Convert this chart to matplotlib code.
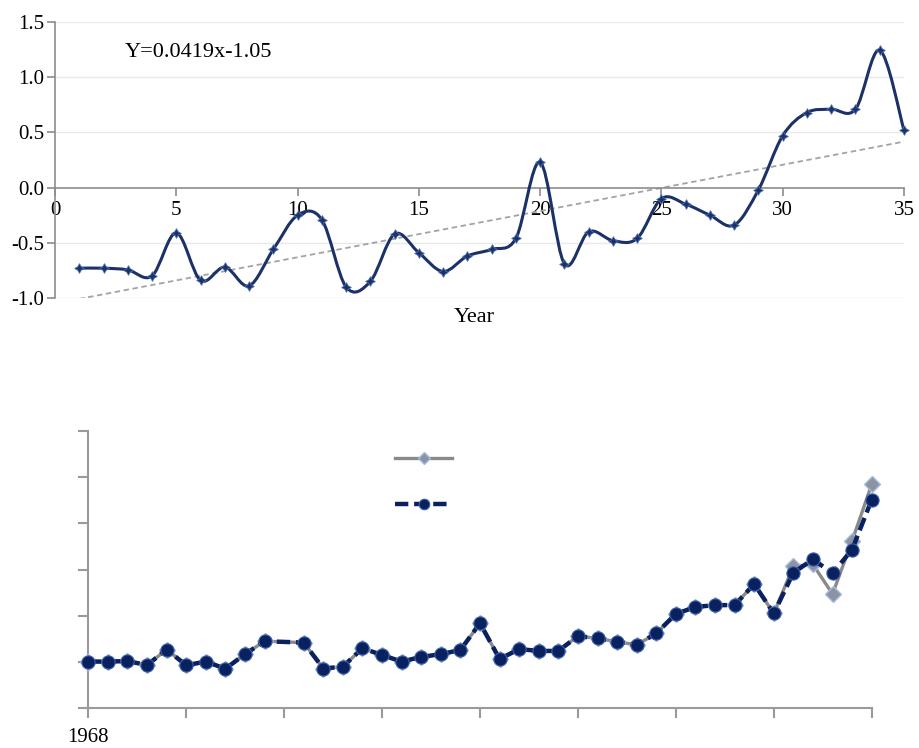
import numpy as np
import matplotlib
matplotlib.use("Agg")
import matplotlib.pyplot as plt
from matplotlib.path import Path
from matplotlib.patches import PathPatch

plt.rcParams['font.family'] = ['Liberation Serif', 'DejaVu Serif']

# ---------------- data ----------------
# annual anomaly index, years numbered 1..35
index_years = list(range(1, 36))
index_values = [-0.73, -0.73, -0.745, -0.80, -0.41, -0.84, -0.72, -0.89, -0.56, -0.25,
                 -0.29, -0.90, -0.85, -0.42, -0.59, -0.76, -0.62, -0.56, -0.46, 0.23,
                 -0.69, -0.40, -0.48, -0.46, -0.10, -0.15, -0.25, -0.34, -0.02, 0.47,
                 0.68, 0.71, 0.71, 1.245, 0.52]
trend_slope = 0.0419
trend_intercept = -1.05
trend_label = "Y=0.0419x-1.05"
index_xticks = [0, 5, 10, 15, 20, 25, 30, 35]
index_yticks = [-1.0, -0.5, 0.0, 0.5, 1.0, 1.5]

# long record 1968-2008 (no entry for 1978)
record_years = [1968, 1969, 1970, 1971, 1972, 1973, 1974, 1975, 1976, 1977,
                1979, 1980, 1981, 1982, 1983, 1984, 1985, 1986, 1987, 1988,
                1989, 1990, 1991, 1992, 1993, 1994, 1995, 1996, 1997, 1998,
                1999, 2000, 2001, 2002, 2003, 2004, 2005, 2006, 2007, 2008]
observed = [1.01, 1.01, 1.02, 0.935, 1.27, 0.93, 1.01, 0.855, 1.17, 1.45,
            1.42, 0.86, 0.90, 1.30, 1.15, 1.01, 1.11, 1.17, 1.26, 1.84,
            1.065, 1.28, 1.24, 1.24, 1.56, 1.51, 1.44, 1.37, 1.62, 2.04,
            2.19, 2.23, 2.23, 2.685, 2.05, 3.07, 3.11, 2.47, 3.62, 4.84]
fitted = [1.01, 1.01, 1.02, 0.935, 1.27, 0.93, 1.01, 0.855, 1.17, 1.45,
          1.42, 0.86, 0.90, 1.30, 1.15, 1.01, 1.11, 1.17, 1.26, 1.84,
          1.065, 1.28, 1.24, 1.24, 1.56, 1.51, 1.44, 1.37, 1.62, 2.04,
          2.19, 2.23, 2.23, 2.685, 2.05, 2.93, 3.22, 2.92, 3.43, 4.51]
record_xticks = [1968, 1973, 1978, 1983, 1988, 1993, 1998, 2003, 2008]
record_xticklabels = ['1968', '', '', '', '', '', '', '', '']
record_yticks = [0, 1, 2, 3, 4, 5, 6]

NAVY = '#1b3168'
DARK_NAVY = '#0a2160'
AXIS_GREY = '#8c8c8c'


def smooth_path(xs, ys, tension=1.0 / 6.0):
    """Cubic Bezier path through the points (spreadsheet-style smoothed line)."""
    pts = np.column_stack([xs, ys]).astype(float)
    n = len(pts)
    verts = [pts[0]]
    codes = [Path.MOVETO]
    for i in range(n - 1):
        p0 = pts[i - 1] if i > 0 else pts[i]
        p1 = pts[i]
        p2 = pts[i + 1]
        p3 = pts[i + 2] if i + 2 < n else pts[i + 1]
        c1 = p1 + (p2 - p0) * tension
        c2 = p2 - (p3 - p1) * tension
        verts += [c1, c2, p2]
        codes += [Path.CURVE4] * 3
    return Path(verts, codes)


fig = plt.figure(figsize=(9.2, 7.48), dpi=100)

# ---------------- upper panel ----------------
ax1 = fig.add_axes([55 / 920, 1 - 298 / 748, 849 / 920, 276 / 748])
ax1.set_xlim(0, 35)
ax1.set_ylim(-1.0, 1.5)

for y in index_yticks:
    if y != 0:
        ax1.axhline(y, color='#e9e9e9', lw=1.0, zorder=0)

ax1.spines['top'].set_visible(False)
ax1.spines['right'].set_visible(False)
ax1.spines['bottom'].set_position(('data', 0))
for s in ('left', 'bottom'):
    ax1.spines[s].set_color(AXIS_GREY)
    ax1.spines[s].set_linewidth(1.2)

ax1.set_xticks(index_xticks)
ax1.set_xticklabels([str(t) for t in index_xticks])
ax1.set_yticks(index_yticks)
ax1.set_yticklabels([f"{t:.1f}" for t in index_yticks])
ax1.tick_params(axis='both', direction='out', length=6, width=1.2,
                color=AXIS_GREY, labelsize=15, labelcolor='black')
ax1.tick_params(axis='x', pad=4)
ax1.tick_params(axis='y', pad=2)

tx = np.array([index_years[0], index_years[-1]], dtype=float)
ax1.plot(tx, trend_slope * tx + trend_intercept, color='#a3a3a3', lw=1.3,
         dashes=(3, 2), zorder=2)

ax1.add_patch(PathPatch(smooth_path(index_years, index_values), fill=False,
                        edgecolor=NAVY, lw=2.2, zorder=3, capstyle='round'))
ax1.plot(index_years, index_values, linestyle='none', marker=(4, 1, 0),
         markersize=7, color=NAVY, markeredgecolor='#4d6fae',
         markeredgewidth=0.6, zorder=4, clip_on=False)

ax1.text(70 / 849, (298 - 52) / 276, trend_label, transform=ax1.transAxes,
         fontsize=16, ha='left', va='center')
ax1.text((474 - 55) / 849, -20 / 276, "Year", transform=ax1.transAxes,
         fontsize=16, ha='center', va='center')

# ---------------- lower panel ----------------
ax2 = fig.add_axes([88.3 / 920, 1 - 708.3 / 748, 783.4 / 920, 277.6 / 748])
ax2.set_xlim(1968, 2008)
ax2.set_ylim(0, 6)
ax2.spines['top'].set_visible(False)
ax2.spines['right'].set_visible(False)
for s in ('left', 'bottom'):
    ax2.spines[s].set_color('#9a9a9a')
    ax2.spines[s].set_linewidth(1.5)
ax2.set_xticks(record_xticks)
ax2.set_xticklabels(record_xticklabels)
ax2.set_yticks(record_yticks)
ax2.set_yticklabels([])
ax2.tick_params(axis='both', direction='out', length=7, width=1.5,
                color='#9a9a9a', labelsize=15)
ax2.tick_params(axis='x', pad=7)

l_obs, = ax2.plot(record_years, observed, color='#8a8a8a', lw=2.4,
                  marker='D', markersize=8, markerfacecolor='#8c94a3',
                  markeredgecolor='#a3bde0', markeredgewidth=1.0,
                  zorder=3, clip_on=False)
l_fit, = ax2.plot(record_years, fitted, color=DARK_NAVY, lw=3.2,
                  dashes=(3, 1.3), marker='o', markersize=9.5,
                  markerfacecolor=DARK_NAVY, markeredgecolor='#3e5fa8',
                  markeredgewidth=0.8, zorder=4, clip_on=False)

ax2.legend(handles=[l_obs, l_fit], labels=['', ''], frameon=False,
           loc='upper left', bbox_to_anchor=((385 - 88.3) / 783.4, (708.3 - 440) / 277.6),
           handlelength=2.7, labelspacing=1.3, fontsize=15, borderpad=0,
           handletextpad=0.2, markerscale=0.8)

fig.savefig('out.png', dpi=100)
